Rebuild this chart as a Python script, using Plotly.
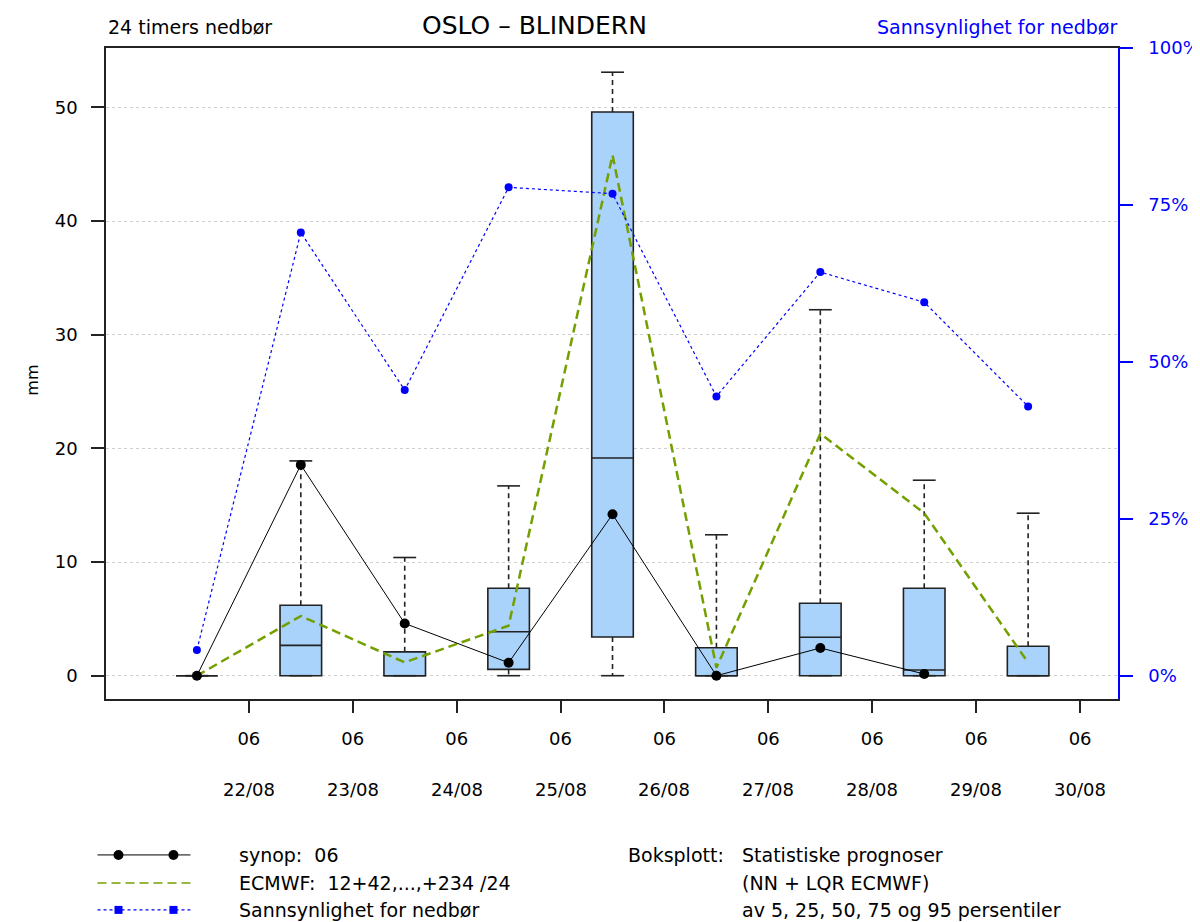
import plotly.graph_objects as go

# ---------------- data ----------------
dates = ["22/08", "23/08", "24/08", "25/08", "26/08", "27/08", "28/08", "29/08", "30/08"]
hour_labels = ["06"] * 9
steps = list(range(9))  # forecast day index

p05 = [0, 0, 0, 0, 0, 0, 0, 0, 0]
p25 = [0, 0, 0, 0.56, 3.4, 0, 0, 0, 0]
p50 = [0, 2.67, 0, 3.87, 19.15, 0, 3.38, 0.5, 0]
p75 = [0, 6.2, 2.1, 7.7, 49.6, 2.46, 6.37, 7.69, 2.59]
p95 = [0, 18.9, 10.4, 16.7, 53.1, 12.4, 32.2, 17.2, 14.3]

synop = [0, 18.55, 4.6, 1.14, 14.2, 0, 2.44, 0.15, None]
ecmwf = [0, 5.25, 1.17, 4.4, 45.8, 0.7, 21.3, 14.3, 1.15]
prob = [4.1, 70.6, 45.5, 77.8, 76.8, 44.5, 64.3, 59.5, 42.9]

mm_ticks = [0, 10, 20, 30, 40, 50]
pct_ticks = [0, 25, 50, 75, 100]

# ---------------- style ----------------
FONT = "DejaVu Sans, Liberation Sans, Arial, sans-serif"
BOX_FILL = "#A9D3FA"
GREEN = "#739F00"
BLUE = "#0000FF"
BOX_W = 0.4
CAP_W = 0.11

# page offset (default body margin) and plot frame in page pixels
OFF = 8
PW, PH = 1200, 922
L, R, T, B = 105.5, 1118, 47.7, 699


def xp(px):
    return (px - L) / (R - L)


def yp(py):
    return (B - py) / (B - T)


fig = go.Figure()

# box bodies
fig.add_trace(go.Bar(
    x=steps, y=[q3 - q1 for q1, q3 in zip(p25, p75)], base=p25, width=BOX_W,
    marker=dict(color=BOX_FILL, line=dict(color="#222222", width=1.6)),
    showlegend=False, hoverinfo="skip"))

# medians
mx, my = [], []
for s, m in zip(steps, p50):
    mx += [s - BOX_W / 2, s + BOX_W / 2, None]
    my += [m, m, None]
fig.add_trace(go.Scatter(x=mx, y=my, mode="lines",
                         line=dict(color="#222222", width=1.6),
                         showlegend=False, hoverinfo="skip"))

# whiskers (dashed)
wx, wy = [], []
for s, lo, q1, q3, hi in zip(steps, p05, p25, p75, p95):
    wx += [s, s, None, s, s, None]
    wy += [q3, hi, None, q1, lo, None]
fig.add_trace(go.Scatter(x=wx, y=wy, mode="lines",
                         line=dict(color="#222222", width=1.6, dash="5px,4px"),
                         showlegend=False, hoverinfo="skip"))

# whisker caps
cx, cy = [], []
for s, lo, hi in zip(steps, p05, p95):
    cx += [s - CAP_W, s + CAP_W, None, s - CAP_W, s + CAP_W, None]
    cy += [hi, hi, None, lo, lo, None]
fig.add_trace(go.Scatter(x=cx, y=cy, mode="lines",
                         line=dict(color="#222222", width=1.6),
                         showlegend=False, hoverinfo="skip"))

# ECMWF
fig.add_trace(go.Scatter(x=steps, y=ecmwf, mode="lines",
                         line=dict(color=GREEN, width=2.5, dash="9px,5px"),
                         showlegend=False, hoverinfo="skip"))

# synop
fig.add_trace(go.Scatter(x=steps, y=synop, mode="lines+markers",
                         line=dict(color="black", width=1),
                         marker=dict(color="black", size=10),
                         showlegend=False, hoverinfo="skip"))

# probability
fig.add_trace(go.Scatter(x=steps, y=prob, mode="lines+markers", yaxis="y2",
                         line=dict(color=BLUE, width=1.2, dash="dot"),
                         marker=dict(color=BLUE, size=8),
                         showlegend=False, hoverinfo="skip"))

# date labels under the "06" ticks
for s, d in zip(steps, dates):
    fig.add_annotation(x=s + 0.5, y=yp(790), xref="x", yref="paper",
                       text=d, showarrow=False, yanchor="middle",
                       font=dict(family=FONT, size=18, color="black"))

# header texts
fig.add_annotation(x=xp(105), y=yp(27), xref="paper", yref="paper",
                   text="24 timers nedbør", showarrow=False, xanchor="left",
                   yanchor="middle", font=dict(family=FONT, size=19, color="black"))
fig.add_annotation(x=xp(534), y=yp(25), xref="paper", yref="paper",
                   text="OSLO – BLINDERN", showarrow=False, xanchor="center",
                   yanchor="middle", font=dict(family=FONT, size=25, color="black"))
fig.add_annotation(x=xp(1119), y=yp(27), xref="paper", yref="paper",
                   text="Sannsynlighet for nedbør", showarrow=False, xanchor="right",
                   yanchor="middle", font=dict(family=FONT, size=19, color=BLUE))
fig.add_annotation(x=xp(32), y=yp(380), xref="paper", yref="paper",
                   text="mm", showarrow=False, textangle=-90,
                   xanchor="center", yanchor="middle",
                   font=dict(family=FONT, size=16, color="black"))

# ---------------- bottom legend ----------------
leg_rows = [855, 883, 910]
x0l, x1l, m1, m2 = 97, 190, 118, 173
# synop sample
fig.add_shape(type="line", xref="paper", yref="paper",
              x0=xp(x0l), x1=xp(x1l), y0=yp(leg_rows[0]), y1=yp(leg_rows[0]),
              line=dict(color="black", width=1))
for mxp in (m1, m2):
    fig.add_shape(type="circle", xref="paper", yref="paper",
                  x0=xp(mxp - 5), x1=xp(mxp + 5), y0=yp(leg_rows[0] - 5), y1=yp(leg_rows[0] + 5),
                  fillcolor="black", line=dict(color="black", width=0))
# ecmwf sample
fig.add_shape(type="line", xref="paper", yref="paper",
              x0=xp(x0l), x1=xp(x1l), y0=yp(leg_rows[1]), y1=yp(leg_rows[1]),
              line=dict(color=GREEN, width=1.5, dash="9px,5px"))
# prob sample
fig.add_shape(type="line", xref="paper", yref="paper",
              x0=xp(x0l), x1=xp(x1l), y0=yp(leg_rows[2]), y1=yp(leg_rows[2]),
              line=dict(color=BLUE, width=1.2, dash="dot"))
for mxp in (m1, m2):
    fig.add_shape(type="rect", xref="paper", yref="paper",
                  x0=xp(mxp - 4), x1=xp(mxp + 4), y0=yp(leg_rows[2] - 4), y1=yp(leg_rows[2] + 4),
                  fillcolor=BLUE, line=dict(color=BLUE, width=0))

leg_texts = ["synop:  06", "ECMWF:  12+42,...,+234 /24", "Sannsynlighet for nedbør"]
for ty, t in zip(leg_rows, leg_texts):
    fig.add_annotation(x=xp(237), y=yp(ty), xref="paper", yref="paper", text=t,
                       showarrow=False, xanchor="left", yanchor="middle",
                       font=dict(family=FONT, size=19, color="black"))
fig.add_annotation(x=xp(626), y=yp(leg_rows[0]), xref="paper", yref="paper",
                   text="Boksplott:", showarrow=False, xanchor="left", yanchor="middle",
                   font=dict(family=FONT, size=19, color="black"))
box_texts = ["Statistiske prognoser", "(NN + LQR ECMWF)", "av 5, 25, 50, 75 og 95 persentiler"]
for ty, t in zip(leg_rows, box_texts):
    fig.add_annotation(x=xp(740), y=yp(ty), xref="paper", yref="paper", text=t,
                       showarrow=False, xanchor="left", yanchor="middle",
                       font=dict(family=FONT, size=19, color="black"))

# ---------------- layout ----------------
ymin, ymax = -2.05, 55.23
fig.update_layout(
    width=PW - OFF, height=PH - OFF,
    margin=dict(l=L - OFF, r=PW - R, t=T - OFF, b=PH - B, autoexpand=False),
    plot_bgcolor="white", paper_bgcolor="white",
    font=dict(family=FONT, size=18, color="black"),
    barmode="overlay",
    xaxis=dict(range=[-0.875, 8.865], tickvals=[s + 0.5 for s in steps],
               ticktext=hour_labels, ticks="outside", ticklen=12, tickwidth=1.5,
               tickcolor="#222222", showgrid=False, zeroline=False,
               showline=True, linecolor="#222222", linewidth=1.5, mirror=True,
               ticklabelstandoff=11, tickfont=dict(size=18)),
    yaxis=dict(range=[ymin, ymax], tickvals=mm_ticks, ticks="outside", ticklen=13,
               tickwidth=1.5, tickcolor="#222222", showgrid=True, gridcolor="#CFCFCF",
               griddash="dot", gridwidth=1, zeroline=False, showline=True,
               linecolor="#222222", linewidth=1.5, mirror=True,
               ticklabelstandoff=10, tickfont=dict(size=18)),
    yaxis2=dict(range=[-3.71, 100], overlaying="y", side="right",
                tickvals=pct_ticks, ticktext=[f"{v}%" for v in pct_ticks],
                ticks="outside", ticklen=13, tickwidth=1.5, tickcolor=BLUE,
                showgrid=False, zeroline=False, showline=True, linecolor=BLUE,
                linewidth=1.5, ticklabelstandoff=12,
                tickfont=dict(size=18, color=BLUE)),
)

fig.write_html("out.html")
